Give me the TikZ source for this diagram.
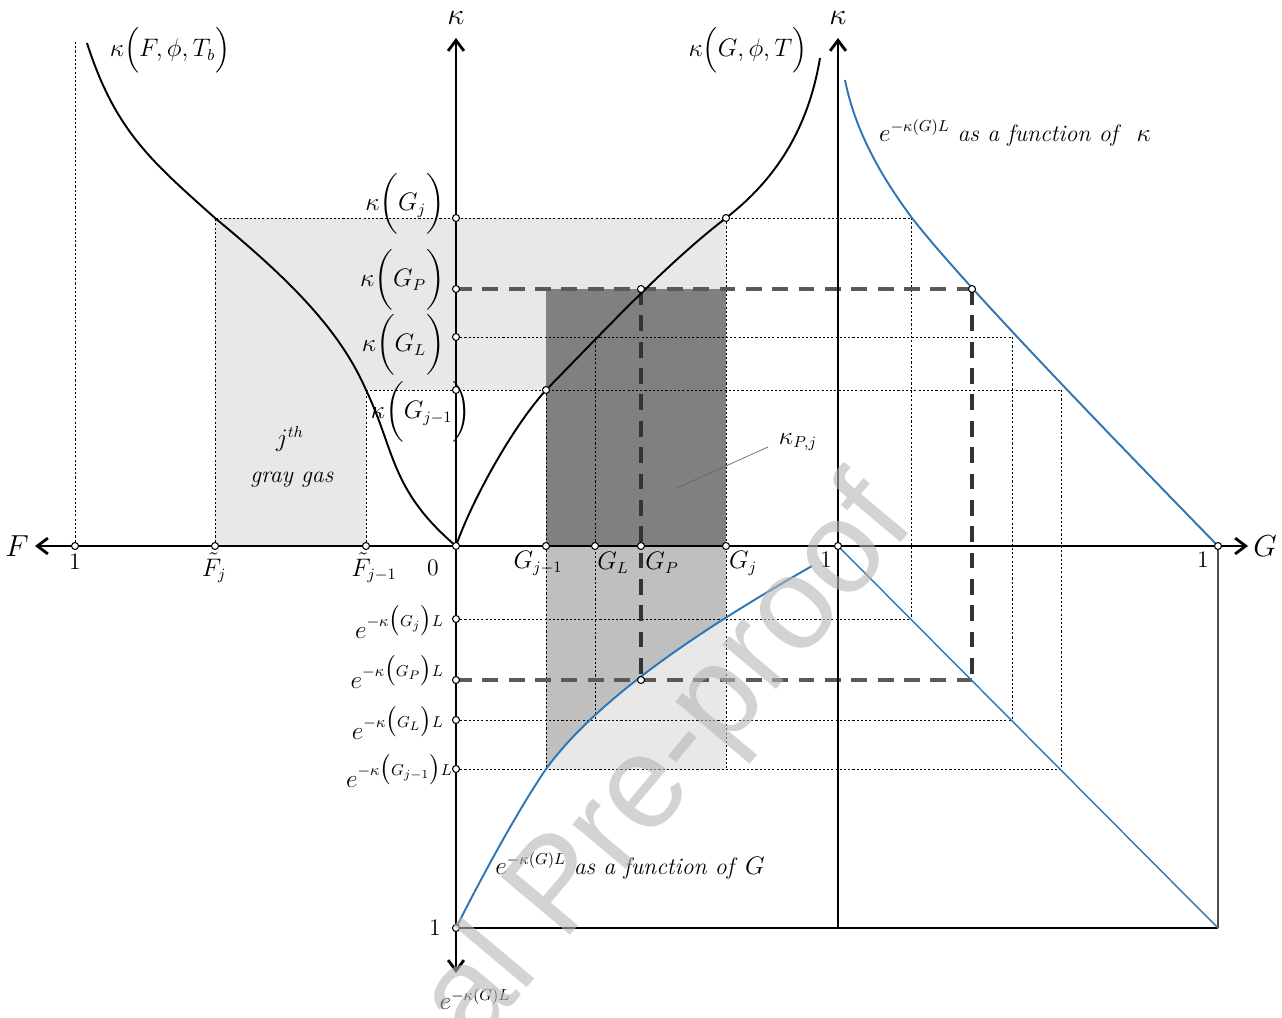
\documentclass[tikz,border=0pt]{standalone}
\usepackage{amsmath}
\usepackage{fontspec}
\newfontfamily\wmfont{Liberation Sans}
\usetikzlibrary{arrows.meta}
\definecolor{curveblue}{RGB}{46,117,182}

\begin{document}
\begin{tikzpicture}[
        >={Straight Barb[length=6pt,width=9pt]},
        axis/.style={line width=1.6pt},
        thinaxis/.style={line width=0.6pt},
        curve/.style={line width=1.1pt},
        bluecurve/.style={draw=curveblue, line width=1.1pt},
        guide/.style={line width=0.5pt, dash pattern=on 1.2pt off 1.2pt},
        proj/.style={line width=2.2pt, dash pattern=on 9pt off 6pt},
        dot/.style={circle, draw, fill=white, line width=0.6pt, inner sep=0pt, minimum size=0.14cm},
        lbl/.style={font=\fontsize{13.5}{16}\selectfont},
        biglbl/.style={font=\fontsize{16}{18}\selectfont},
        watermark/.style={text=black!29, opacity=0.6, font=\wmfont\fontsize{75}{75}\selectfont}
    ]
        \useasboundingbox (-9.12,-9.42) rectangle (16.52,10.92);

        % Daerah abu-abu (gas abu-abu ke-j)
        \fill[black!9] (-4.82,6.56) -- (5.4,6.56) -- (5.4,3.12) -- (-1.8,3.12) -- (-1.8,0) -- (-4.82,0) -- cycle;
        \fill[black!50] (1.8,0) rectangle (5.4,5.14);
        \fill[black!25] (1.8,0) rectangle (5.4,-4.46);
        \begin{scope}
            \clip (1.8,0) rectangle (5.4,-4.46);
            \fill[black!9] (0,-7.64) .. controls (0.48,-6.68) and (1.24,-5.28) .. (1.8,-4.46)
                .. controls (2.84,-3.04) and (4.88,-1.68) .. (7.12,-0.4) -- (7.12,-7.64) -- cycle;
        \end{scope}

        % Garis bantu
        \draw[guide] (-7.62,0) -- (-7.62,10.12);
        \draw[guide] (-4.82,0) -- (-4.82,6.56) -- (9.10,6.56);
        \draw[guide] (-1.8,0) -- (-1.8,3.12) -- (12.10,3.12);
        \draw[guide] (0,4.18) -- (11.12,4.18);
        \draw[guide] (1.8,3.12) -- (1.8,-4.46);
        \draw[guide] (2.78,4.18) -- (2.78,-3.48);
        \draw[guide] (5.4,6.56) -- (5.4,-4.46);
        \draw[guide] (9.10,6.56) -- (9.10,-1.46);
        \draw[guide] (11.12,4.18) -- (11.12,-3.48);
        \draw[guide] (12.10,3.12) -- (12.10,-4.46);
        \draw[guide] (0,-1.46) -- (9.10,-1.46);
        \draw[guide] (0,-3.48) -- (11.12,-3.48);
        \draw[guide] (0,-4.46) -- (12.10,-4.46);

        % Proyeksi G_P
        \draw[proj, black!65] (0,5.14) -- (10.32,5.14);
        \draw[proj, black!65] (0,-2.68) -- (10.32,-2.68);
        \draw[proj, black!80] (3.7,5.14) -- (3.7,-2.68);
        \draw[proj, black!80] (10.32,5.14) -- (10.32,-2.68);

        % Sumbu
        \draw[axis, <->] (-8.42,0) -- (15.84,0);
        \draw[axis, ->] (0,0) -- (0,10.16);
        \draw[axis, ->] (7.64,0) -- (7.64,10.16);
        \draw[thinaxis] (0,0) -- (0,-5.78);
        \draw[axis, ->] (0,-5.78) -- (0,-8.54);
        \draw[thinaxis] (7.64,0) -- (7.64,-7.64);
        \draw[thinaxis] (0,-7.64) -- (15.24,-7.64);
        \draw[thinaxis, black!70] (15.24,0) -- (15.24,-7.64);
        \node[biglbl] (F) at (-8.78,0) {$F$};
        \node[biglbl] (G) at (16.18,0) {$G$};
        \node[biglbl] (kap) at (0,10.56) {$\kappa$};
        \node[biglbl] (kapR) at (7.64,10.56) {$\kappa$};
        \node[lbl] (trans) at (0.38,-9.06) {$e^{-\kappa(G)L}$};

        % Kurva kappa
        \draw[curve] (-7.38,10.06) .. controls (-6.82,8.32) and (-6.12,7.72) .. (-4.82,6.56)
            .. controls (-3.32,5.32) and (-2.32,4.32) .. (-1.8,3.12)
            .. controls (-1.22,1.92) and (-1.32,1.12) .. (0,0);
        \draw[curve] (0,0) .. controls (0.28,0.82) and (1.08,2.32) .. (1.8,3.12)
            .. controls (2.98,4.32) and (4.18,5.62) .. (5.4,6.56)
            .. controls (6.38,7.32) and (7.04,8.32) .. (7.28,9.76);
        \node[lbl] (kF) at (-5.72,9.92) {$\kappa\Bigl(F,\phi,T_b\Bigr)$};
        \node[lbl] (kG) at (5.84,9.92) {$\kappa\Bigl(G,\phi,T\Bigr)$};

        % Kurva transmisivitas
        \draw[bluecurve] (7.78,9.32) .. controls (7.98,8.32) and (8.48,7.42) .. (9.12,6.56)
            .. controls (10.08,5.32) and (12.88,2.42) .. (15.24,0);
        \draw[bluecurve] (0,-7.64) .. controls (0.48,-6.68) and (1.24,-5.28) .. (1.8,-4.46)
            .. controls (2.84,-3.04) and (4.88,-1.68) .. (7.12,-0.4);
        \draw[curveblue, line width=0.8pt] (7.64,0) -- (15.24,-7.64);

        % Titik
        \node[dot] (F1) at (-7.62,0) {};
        \node[dot] (Fj) at (-4.82,0) {};
        \node[dot] (Fjm) at (-1.8,0) {};
        \node[dot] (O) at (0,0) {};
        \node[dot] (Gjm) at (1.8,0) {};
        \node[dot] (GL) at (2.78,0) {};
        \node[dot] (GP) at (3.7,0) {};
        \node[dot] (Gj) at (5.4,0) {};
        \node[dot] (OR) at (7.64,0) {};
        \node[dot] (G1) at (15.24,0) {};
        \node[dot] (kGj) at (0,6.56) {};
        \node[dot] (kGP) at (0,5.14) {};
        \node[dot] (kGL) at (0,4.18) {};
        \node[dot] (kGjm) at (0,3.12) {};
        \node[dot] (cGj) at (5.4,6.56) {};
        \node[dot] (cGP) at (3.7,5.14) {};
        \node[dot] (cGjm) at (1.8,3.12) {};
        \node[dot] (rGP) at (10.32,5.14) {};
        \node[dot] (tGP) at (3.7,-2.68) {};
        \node[dot] (eGj) at (0,-1.46) {};
        \node[dot] (eGP) at (0,-2.68) {};
        \node[dot] (eGL) at (0,-3.48) {};
        \node[dot] (eGjm) at (0,-4.46) {};
        \node[dot] (e1) at (0,-7.64) {};

        % Label sumbu
        \node[lbl] (lF1) at (-7.62,-0.32) {1};
        \node[lbl] (lFj) at (-4.84,-0.44) {$\tilde{F}_j$};
        \node[lbl] (lFjm) at (-1.64,-0.44) {$\tilde{F}_{j-1}$};
        \node[lbl] (l0) at (-0.46,-0.44) {0};
        \node[lbl] (lGjm) at (1.64,-0.34) {$G_{j-1}$};
        \node[lbl] (lGL) at (3.14,-0.34) {$G_L$};
        \node[lbl] (lGP) at (4.12,-0.34) {$G_P$};
        \node[lbl] (lGj) at (5.74,-0.34) {$G_j$};
        \node[lbl] (lOR) at (7.4,-0.28) {1};
        \node[lbl] (lG1) at (14.94,-0.28) {1};
        \node[lbl] (le1) at (-0.42,-7.64) {1};

        \node[lbl, anchor=east] (lkGj) at (-0.1,6.84) {$\kappa\biggl(G_j\biggr)$};
        \node[lbl, anchor=east] (lkGP) at (-0.1,5.32) {$\kappa\biggl(G_P\biggr)$};
        \node[lbl, anchor=east] (lkGL) at (-0.1,4.02) {$\kappa\biggl(G_L\biggr)$};
        \node[lbl] (lkGjm) at (-0.7,2.68) {$\kappa\biggl(G_{j-1}\biggr)$};

        \node[lbl, anchor=east] (leGj) at (-0.12,-1.52) {$e^{-\kappa\bigl(G_j\bigr)L}$};
        \node[lbl, anchor=east] (leGP) at (-0.12,-2.52) {$e^{-\kappa\bigl(G_P\bigr)L}$};
        \node[lbl, anchor=east] (leGL) at (-0.12,-3.54) {$e^{-\kappa\bigl(G_L\bigr)L}$};
        \node[lbl, anchor=east] (leGjm) at (0.06,-4.5) {$e^{-\kappa\bigl(G_{j-1}\bigr)L}$};

        % Keterangan
        \node[lbl] (jth) at (-3.32,2.14) {$j^{th}$};
        \node[lbl] (gas) at (-3.28,1.32) {\textit{gray gas}};
        \node[lbl] (kPj) at (6.84,2.08) {$\kappa_{P,j}$};
        \draw[black!60, line width=0.4pt] (6.24,1.98) -- (4.42,1.16);
        \node[lbl] (fnK) at (11.18,8.26) {$e^{-\kappa(G)L}$ \textit{as a function of} \ $\kappa$};
        \node[lbl] (fnG) at (3.48,-6.4) {$e^{-\kappa(G)L}$ \textit{as a function of} $G$};

        % Tanda air
        \node[watermark, rotate=50, anchor=base east] (wm) at (9.3,0.56) {Journal Pre-proof};
    \end{tikzpicture}
\end{document}
